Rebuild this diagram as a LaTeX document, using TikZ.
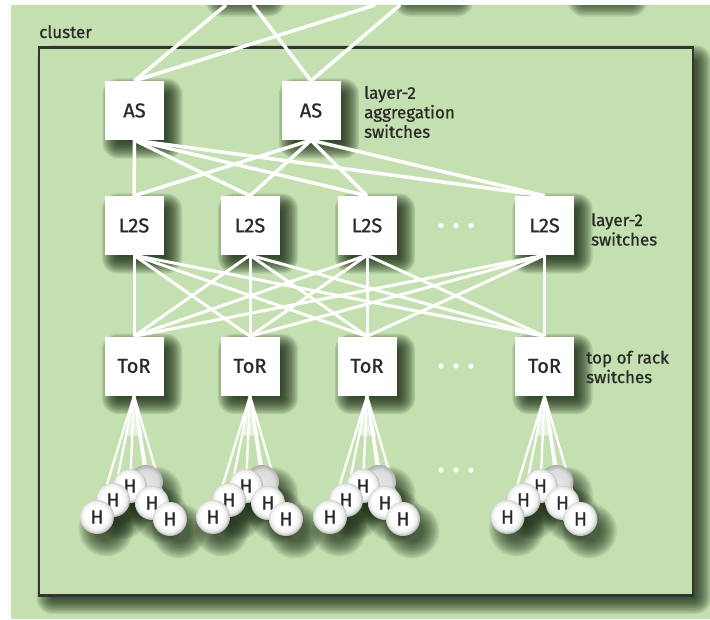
\documentclass[tikz,border=0pt]{standalone}
\usepackage{fontspec}
\setmainfont{Fira Sans}
\newfontfamily\medfont{Fira Sans}[FakeBold=1]
\usetikzlibrary{calc}
\definecolor{bg}{HTML}{C4E0B0}
\definecolor{txt}{HTML}{2A2A2A}
\definecolor{shd}{HTML}{14260E}
\pgfdeclarelayer{bglayer}
\pgfdeclarelayer{shadowlayer}
\pgfdeclarelayer{linelayer}
\pgfsetlayers{bglayer,shadowlayer,linelayer,main}
\pgfdeclareradialshading{hostball}{\pgfpoint{-3bp}{3bp}}{color(0bp)=(white); color(16bp)=(white); color(22bp)=(black!8); color(25bp)=(black!25); color(50bp)=(black!25)}
\pgfdeclareradialshading{hostballback}{\pgfpoint{0bp}{0bp}}{color(0bp)=(black!10); color(18bp)=(black!14); color(25bp)=(black!32); color(50bp)=(black!32)}
% soft (fake-blurred) shadow of a rectangle given by its two corners
\newcommand{\rectshadow}[3]{%
  \foreach \e in {-6,-4.5,...,10.5}{%
    \pgfmathsetmacro\rr{max(\e+6,0.5)}%
    \fill[shd, opacity=#3, rounded corners=\rr pt]
      ($(#1)+(8-\e,8+\e)$) rectangle ($(#2)+(8+\e,8-\e)$);
  }}
% soft shadow of a host circle
\newcommand{\circshadow}[1]{%
  \foreach \e in {-6,-4.5,...,10.5}{%
    \fill[shd, opacity=0.085] ($(#1)+(9,12)$) circle[radius={(17+\e)*1pt}];
  }}
\begin{document}
\begin{tikzpicture}[x=1pt,y=-1pt,
  box/.style={fill=white, minimum width=59pt, minimum height=59pt, inner sep=0pt,
    font=\medfont\fontsize{20}{20}\selectfont, text=txt},
  host/.style={circle, shading=hostball, minimum size=34pt, inner sep=0pt,
    font=\medfont\fontsize{19}{19}\selectfont, text=txt},
  hostback/.style={circle, shading=hostballback, minimum size=34pt, inner sep=0pt},
  lbl/.style={font=\medfont\fontsize{17}{19.5}\selectfont, text=txt, align=left, inner sep=0pt},
  link/.style={draw=white, line width=3.5pt},
  link2/.style={draw=white, line width=3pt},
  fan/.style={draw=white, line width=2.3pt},
  frame/.style={draw=black!80, line width=2.2pt, fill=bg},
]
\useasboundingbox (0,0) rectangle (710,619);

% ---------- switches ----------
\node[box] (as1) at (134.5,110.5) {AS};
\node[box] (as2) at (311,110.5) {AS};
\foreach \i/\x in {1/134,2/250,3/367,4/544.5}{
  \node[box] (l\i) at (\x,225.5) {L2S};
  \node[box] (t\i) at (\x,366) {ToR};
}

\node[lbl, anchor=base west] (lblcluster) at (39,38) {cluster};
\node[lbl, anchor=west] (lblas) at (364,112) {layer-2\\aggregation\\switches};
\node[lbl, anchor=west] (lbll2s) at (591,229.5) {layer-2\\switches};
\node[lbl, anchor=west] (lbltor) at (586,367) {top of rack\\switches};

\coordinate (c1) at (226,5);
\coordinate (c2) at (375,5);
\coordinate (c3) at (253,5);
\coordinate (c4) at (400,5);
\coordinate (fsw) at (39,595.5);
\coordinate (fne) at (693,47.5);

% ---------- hosts ----------
\foreach \g/\x in {1/134,2/250,3/367,4/544.5}{
  \node[hostback] (h\g-1) at ({\x+12},482) {};
  \node[host] (h\g-2) at ({\x-4},486) {H};
  \node[host] (h\g-3) at ({\x+18},503) {H};
  \node[host] (h\g-4) at ({\x-21},500) {H};
  \node[host] (h\g-5) at ({\x-37},517) {H};
  \node[host] (h\g-6) at ({\x+36},519) {H};
}

% ---------- background ----------
\begin{pgfonlayer}{bglayer}
  \fill[white] (0,0) rectangle (710,619);
  \fill[bg] (11,5) rectangle (710,619);
  \begin{scope}
    \clip (11,5) rectangle (710,619);
    \coordinate (k1a) at (208,-2);  \coordinate (k1b) at (267,-60);
    \coordinate (k2a) at (396,-2);  \coordinate (k2b) at (455,-60);
    \coordinate (k3a) at (570,-2);  \coordinate (k3b) at (629,-60);
    \rectshadow{k1a}{k1b}{0.11}
    \rectshadow{k2a}{k2b}{0.11}
    \rectshadow{k3a}{k3b}{0.11}
  \end{scope}
  \rectshadow{fsw}{fne}{0.11}
  \path[frame] (fsw) rectangle (fne);
\end{pgfonlayer}

% ---------- shadows ----------
\begin{pgfonlayer}{shadowlayer}
  \foreach \n in {as1,as2,l1,l2,l3,l4,t1,t2,t3,t4}{
    \rectshadow{\n.south west}{\n.north east}{0.12}
  }
  \foreach \g in {1,2,3,4}{
    \foreach \k in {1,...,6}{
      \circshadow{h\g-\k.center}
    }
  }
\end{pgfonlayer}

% ---------- links ----------
\begin{pgfonlayer}{linelayer}
  \draw[link] (as1.north) -- (c1);
  \draw[link] (as1.north) -- (c2);
  \draw[link] (as2.north) -- (c3);
  \draw[link] (as2.north) -- (c4);
  \foreach \a in {as1,as2}{
    \foreach \i in {1,2,3,4}{
      \draw[link] (\a.south) -- (l\i.north);
    }
  }
  \foreach \i in {1,2,3,4}{
    \foreach \j in {1,2,3,4}{
      \draw[link2] (l\i.south) -- (t\j.north);
    }
  }
  \foreach \g in {1,2,3,4}{
    \foreach \k in {1,...,6}{
      \draw[fan] (t\g.south) -- (h\g-\k.center);
    }
    \fill[white, opacity=0.55] (t\g.south) -- ++(-9,40) -- ++(18,0) -- cycle;
  }
\end{pgfonlayer}

% ---------- ellipsis dots ----------
\foreach \y in {225.5,366,470}{
  \foreach \x in {441,456,471}{
    \fill[white] (\x,\y) circle[radius=2.6pt];
  }
}
\end{tikzpicture}
\end{document}
